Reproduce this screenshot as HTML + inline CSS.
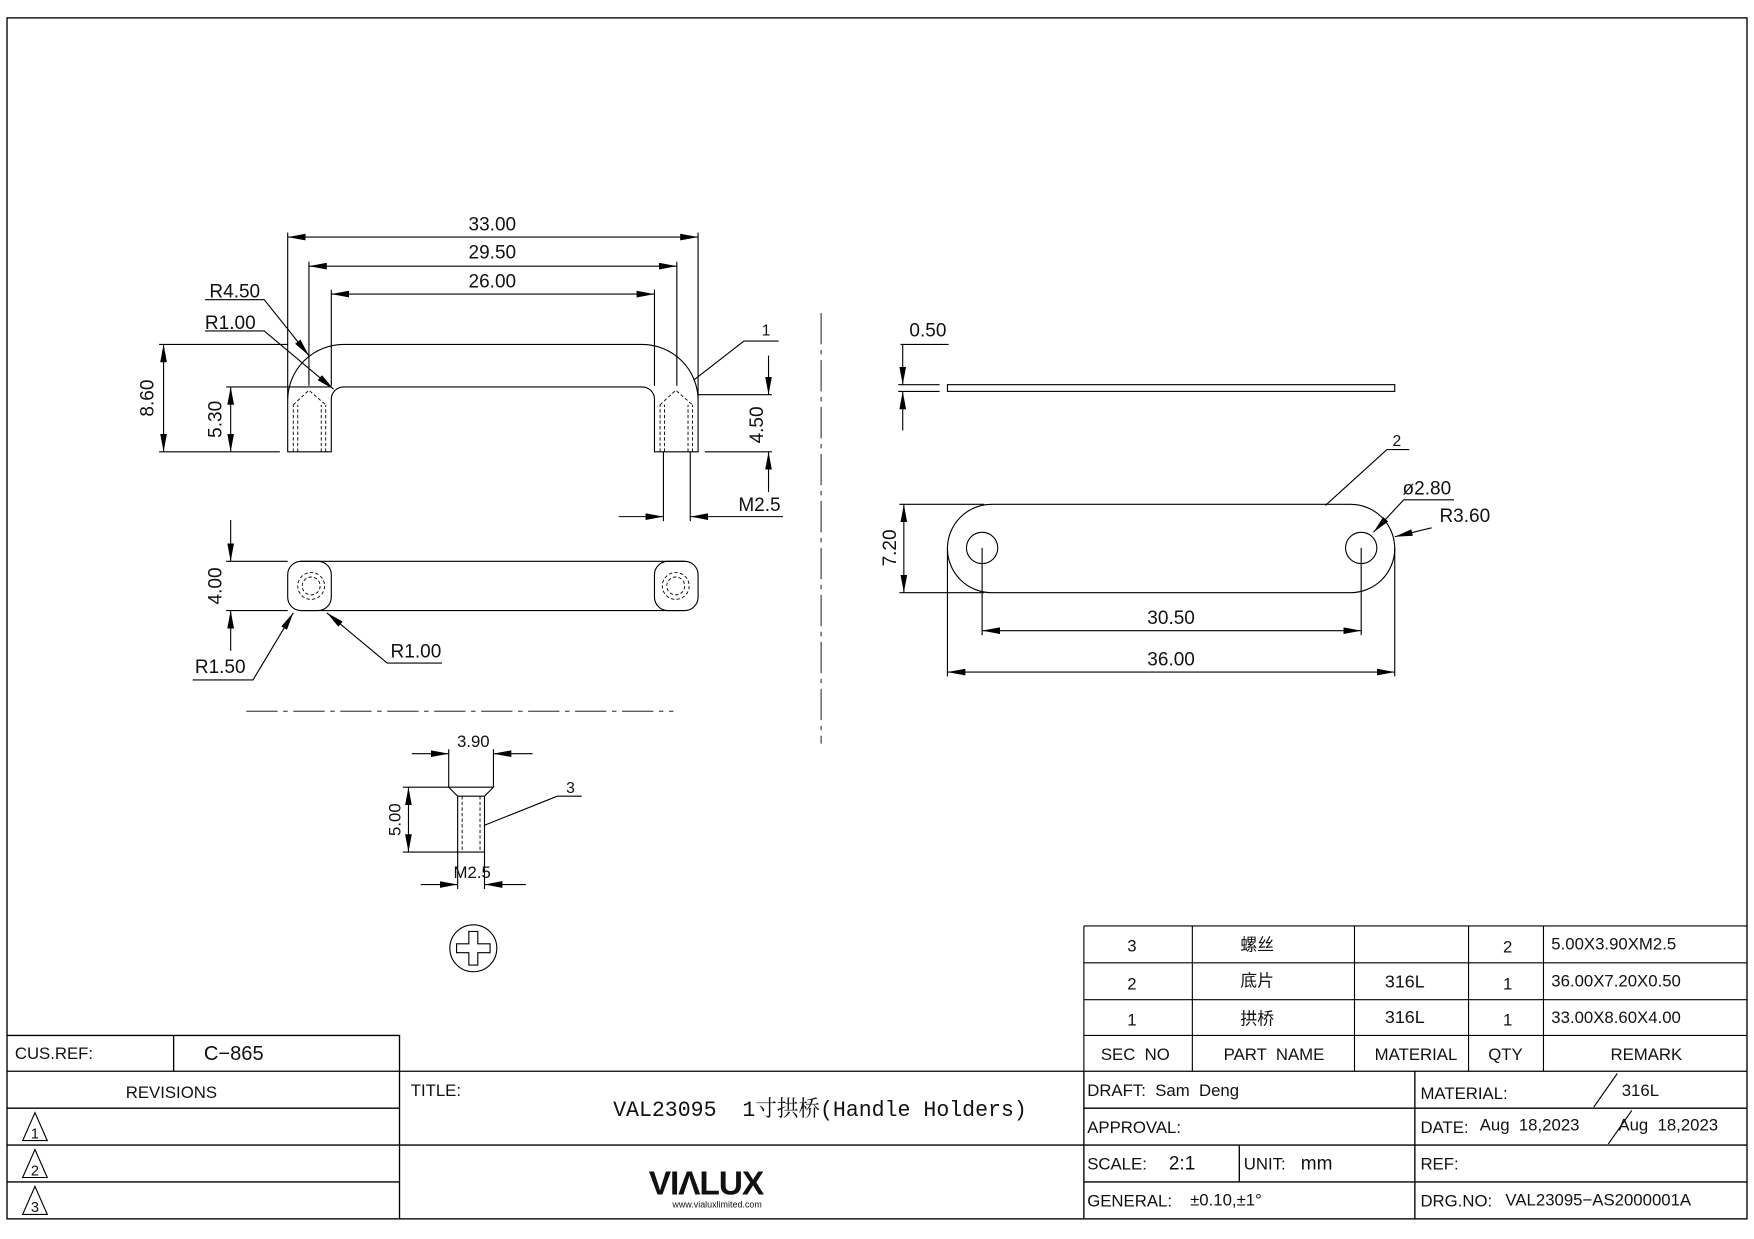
<!DOCTYPE html>
<html><head><meta charset="utf-8"><style>
html,body{margin:0;padding:0;background:#fff}
svg{display:block}
text{font-family:"Liberation Sans","Noto Sans CJK SC",sans-serif;fill:#111;white-space:pre}
</style></head><body>
<svg width="1754" height="1239" viewBox="0 0 1568 1108" xmlns="http://www.w3.org/2000/svg" xml:space="preserve">
<defs>
<marker id="a" viewBox="0 0 16 6" refX="16" refY="3" markerWidth="16" markerHeight="6" markerUnits="userSpaceOnUse" orient="auto-start-reverse"><path d="M0,0 L16,3 L0,6 Z" fill="#000"/></marker>
</defs>
<rect x="0" y="0" width="1568" height="1108" fill="#fff"/>
<g fill="none" stroke="#000" stroke-width="1">
<rect x="6" y="16" width="1556" height="1074" stroke-width="1.2"/>

<path d="M257,404 L257,358 A50,50 0 0 1 307,308 L574,308 A50,50 0 0 1 624,358 L624,404 L585,404 L585,357 A11,11 0 0 0 574,346 L307,346 A11,11 0 0 0 296,357 L296,404 Z"/>
<g stroke-dasharray="3,2" stroke-width="0.8">
<path d="M262,404 V362 M266,404 V362 M287,404 V362 M291,404 V362 M262,362 L276,349 L291,362"/>
<path d="M590,404 V362 M594,404 V362 M615,404 V362 M619,404 V362 M590,362 L604,349 L619,362"/>
</g>
<path d="M257,208 V356 M624,208 V356 M276,234 V345 M605,234 V345 M296,259 V345 M585,259 V345"/>
<path d="M257,212 H624" marker-start="url(#a)" marker-end="url(#a)"/>
<path d="M276,238 H605" marker-start="url(#a)" marker-end="url(#a)"/>
<path d="M296,263 H585" marker-start="url(#a)" marker-end="url(#a)"/>
<path d="M142,308 H257 M142,404 H250 M202,346 H296 M202,404 H250"/>
<path d="M146,308 V404" marker-start="url(#a)" marker-end="url(#a)"/>
<path d="M206,346 V404" marker-start="url(#a)" marker-end="url(#a)"/>
<path d="M624,353 H690 M630,404 H690"/>
<path d="M687,318 V353" marker-end="url(#a)"/>
<path d="M687,440 V404" marker-end="url(#a)"/>
<path d="M593,404 V466 M617,404 V466"/>
<path d="M553,462 H593" marker-end="url(#a)"/>
<path d="M700,462 H617" marker-end="url(#a)"/>
<path d="M183,268 H236 L276,318" marker-end="url(#a)"/>
<path d="M183,296 H236 L298,348" marker-end="url(#a)"/>
<path d="M620,340 L665,305 H696"/>

<path d="M268,502 H612 M268,546 H612"/>
<rect x="257" y="502" width="39" height="44" rx="12"/>
<rect x="585" y="502" width="39" height="44" rx="12"/>
<g stroke-dasharray="3,2" stroke-width="0.8">
<circle cx="278" cy="524" r="12"/><circle cx="278" cy="524" r="8"/>
<circle cx="604" cy="524" r="12"/><circle cx="604" cy="524" r="8"/>
</g>
<path d="M202,502 H257 M202,546 H257"/>
<path d="M206,465 V502" marker-end="url(#a)"/>
<path d="M206,582 V546" marker-end="url(#a)"/>
<path d="M172,608 H226 L262,548" marker-end="url(#a)"/>
<path d="M395,593 H346 L292,548" marker-end="url(#a)"/>

<path d="M220,636 H602" stroke-dasharray="28,5,4,5" stroke-width="0.8"/>
<path d="M734,280 V665" stroke-dasharray="28,5,4,5" stroke-width="0.8"/>

<path d="M401,704 H441 L433,712 V762 H409 V712 Z M409,712 H433"/>
<path d="M413,712 V762 M429,712 V762" stroke-dasharray="3,2" stroke-width="0.8"/>
<path d="M401,670 V704 M441,670 V704"/>
<path d="M368,674 H401" marker-end="url(#a)"/>
<path d="M476,674 H441" marker-end="url(#a)"/>
<path d="M360,704 H401 M360,762 H409"/>
<path d="M365,704 V762" marker-start="url(#a)" marker-end="url(#a)"/>
<path d="M409,762 V795 M433,762 V795"/>
<path d="M376,791 H409" marker-end="url(#a)"/>
<path d="M470,791 H433" marker-end="url(#a)"/>
<path d="M433,738 L498,712 H520"/>
<circle cx="423" cy="848" r="21"/>
<path d="M419,833 H427 V844 H438 V852 H427 V863 H419 V852 H408 V844 H419 Z"/>

<rect x="847" y="344" width="400" height="6"/>
<path d="M803,344 H840 M803,350 H840"/>
<path d="M805,308 H848"/>
<path d="M807,308 V344" marker-end="url(#a)"/>
<path d="M807,385 V350" marker-end="url(#a)"/>
<rect x="847" y="451" width="400" height="79" rx="39.5"/>
<circle cx="878" cy="490" r="14"/><circle cx="1217" cy="490" r="14"/>
<path d="M804,451 H880 M804,530 H880"/>
<path d="M808,451 V530" marker-start="url(#a)" marker-end="url(#a)"/>
<path d="M878,490 V568 M1217,490 V568 M847,490 V605 M1247,490 V605"/>
<path d="M878,564 H1217" marker-start="url(#a)" marker-end="url(#a)"/>
<path d="M847,601 H1247" marker-start="url(#a)" marker-end="url(#a)"/>
<path d="M1185,452 L1240,402 H1260"/>
<path d="M1300,447 H1255 L1228,476" marker-end="url(#a)"/>
<path d="M1280,472 L1247,480" marker-end="url(#a)"/>

<path d="M969,828 H1562 M969,861 H1562 M969,894 H1562 M969,926 H1562 M969,828 V958 M1066,828 V958 M1211,828 V958 M1313,828 V958 M1380,828 V958" stroke-width="1"/>
<path d="M6,926 H357 V958 M155,926 V958" stroke-width="1.2"/>
<path d="M6,958 H1562 M6,991 H357 M969,991 H1562 M6,1024 H1562 M6,1057 H357 M969,1057 H1562 M357,958 V1090 M969,958 V1090 M1265,958 V1090 M1108,1024 V1057" stroke-width="1.2"/>
<path d="M1446,960 L1425,990 M1459,993 L1438,1023"/>
<path d="M20,1020 L31,995 L42,1020 Z M20,1053 L31,1028 L42,1053 Z M20,1086 L31,1061 L42,1086 Z"/>
</g>

<g font-size="17">
<text x="440" y="206" text-anchor="middle">33.00</text>
<text x="440" y="231" text-anchor="middle">29.50</text>
<text x="440" y="257" text-anchor="middle">26.00</text>
<text x="187" y="266">R4.50</text>
<text x="183" y="294">R1.00</text>
<text x="137" y="356" text-anchor="middle" transform="rotate(-90 137 356)">8.60</text>
<text x="198" y="375" text-anchor="middle" transform="rotate(-90 198 375)">5.30</text>
<text x="682" y="380" text-anchor="middle" transform="rotate(-90 682 380)">4.50</text>
<text x="660" y="457">M2.5</text>
<text x="681" y="300" font-size="14">1</text>
<text x="198" y="524" text-anchor="middle" transform="rotate(-90 198 524)">4.00</text>
<text x="174" y="602">R1.50</text>
<text x="349" y="588">R1.00</text>
<text x="423" y="668" text-anchor="middle" font-size="15">3.90</text>
<text x="358" y="733" text-anchor="middle" font-size="15" transform="rotate(-90 358 733)">5.00</text>
<text x="422" y="785" text-anchor="middle" font-size="15">M2.5</text>
<text x="506" y="709" font-size="14">3</text>
<text x="813" y="301">0.50</text>
<text x="801" y="490" text-anchor="middle" transform="rotate(-90 801 490)">7.20</text>
<text x="1047" y="558" text-anchor="middle">30.50</text>
<text x="1047" y="595" text-anchor="middle">36.00</text>
<text x="1245" y="399" font-size="14">2</text>
<text x="1254" y="442">ø2.80</text>
<text x="1287" y="467">R3.60</text>
</g>

<g font-size="15">
<text x="1012" y="851" text-anchor="middle">3</text>
<text x="1124" y="850" text-anchor="middle">螺丝</text>
<text x="1348" y="852" text-anchor="middle">2</text>
<text x="1387" y="849">5.00X3.90XM2.5</text>
<text x="1012" y="885" text-anchor="middle">2</text>
<text x="1124" y="882" text-anchor="middle">底片</text>
<text x="1256" y="883" text-anchor="middle" font-size="16">316L</text>
<text x="1348" y="885" text-anchor="middle">1</text>
<text x="1387" y="882">36.00X7.20X0.50</text>
<text x="1012" y="917" text-anchor="middle">1</text>
<text x="1124" y="916" text-anchor="middle">拱桥</text>
<text x="1256" y="915" text-anchor="middle" font-size="16">316L</text>
<text x="1348" y="917" text-anchor="middle">1</text>
<text x="1387" y="915">33.00X8.60X4.00</text>
<text x="1015" y="948" text-anchor="middle" fill="#444">SEC  NO</text>
<text x="1139" y="948" text-anchor="middle" fill="#444">PART  NAME</text>
<text x="1266" y="948" text-anchor="middle" fill="#444">MATERIAL</text>
<text x="1346" y="948" text-anchor="middle" fill="#444">QTY</text>
<text x="1472" y="948" text-anchor="middle" fill="#444">REMARK</text>

<text x="972" y="980">DRAFT:  Sam  Deng</text>
<text x="972" y="1013">APPROVAL:</text>
<text x="972" y="1046">SCALE:</text>
<text x="1045" y="1046" font-size="17">2:1</text>
<text x="1112" y="1046">UNIT:</text>
<text x="1163" y="1046" font-size="17">mm</text>
<text x="972" y="1079">GENERAL:</text>
<text x="1064" y="1078">±0.10,±1°</text>
<text x="1270" y="983">MATERIAL:</text>
<text x="1450" y="980">316L</text>
<text x="1270" y="1013">DATE:</text>
<text x="1323" y="1011">Aug  18,2023</text>
<text x="1447" y="1011">Aug  18,2023</text>
<text x="1270" y="1046">REF:</text>
<text x="1270" y="1079">DRG.NO:</text>
<text x="1346" y="1078">VAL23095−AS2000001A</text>

<text x="13" y="947">CUS.REF:</text>
<text x="182" y="948" font-size="18">C−865</text>
<text x="153" y="982" text-anchor="middle">REVISIONS</text>
<text x="31" y="1018" font-size="13" text-anchor="middle">1</text>
<text x="31" y="1051" font-size="13" text-anchor="middle">2</text>
<text x="31" y="1084" font-size="13" text-anchor="middle">3</text>
<text x="367" y="980">TITLE:</text>
<text x="733" y="998" text-anchor="middle" font-size="20" textLength="370" lengthAdjust="spacingAndGlyphs" style="font-family:'Liberation Mono','Noto Serif CJK SC',monospace">VAL23095  1寸拱桥(Handle Holders)</text>
<text x="631" y="1068" text-anchor="middle" font-size="30" font-weight="bold" style="letter-spacing:-1px">VIΛLUX</text>
<text x="641" y="1080" text-anchor="middle" font-size="8">www.vialuxlimited.com</text>
</g>
</svg>
</body></html>
